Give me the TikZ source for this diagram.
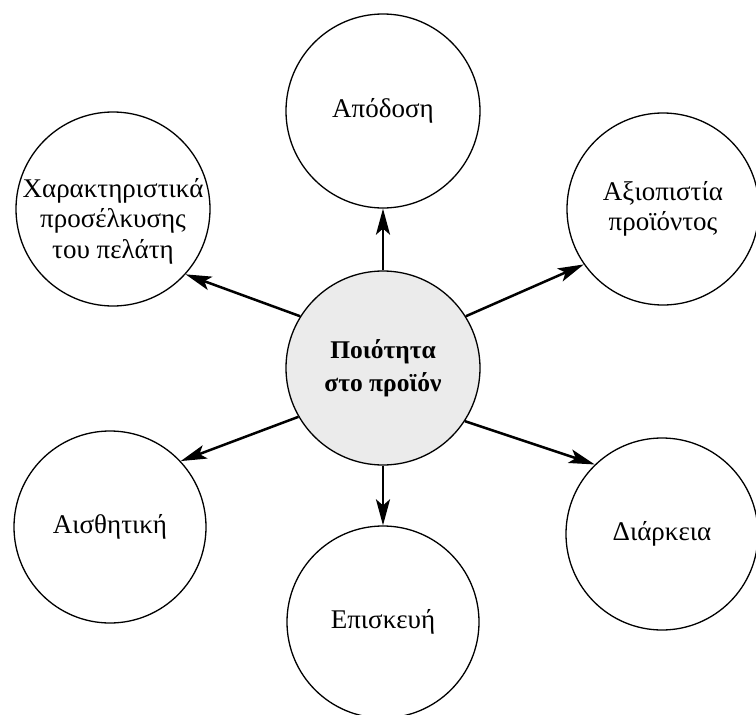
\documentclass[tikz,border=0pt]{standalone}
\usepackage{fontspec}
\setmainfont{Liberation Serif}
\usetikzlibrary{arrows.meta}
\begin{document}
\begin{tikzpicture}[x=1pt,y=-1pt,
  bub/.style={circle,draw,line width=1.3pt,minimum size=192pt,inner sep=0pt,align=center,font=\fontsize{27}{30.5}\selectfont},
  hub/.style={bub,minimum size=194pt,fill=gray!16,font=\fontsize{25.5}{33}\selectfont\bfseries},
  conn/.style={line width=2.5pt,-{Stealth[length=26pt,width=14pt,inset=6pt]}}]
\useasboundingbox (0,0) rectangle (756,715);
\node[hub] (hub) at (383,368) {Ποιότητα\\στο προϊόν};
\node[bub,minimum size=194pt] (top) at (383,111) {Απόδοση};
\node[bub,minimum size=194pt] (lt) at (113,209) {\raisebox{-19pt}[0pt][0pt]{\begin{tabular}{@{}c@{}}Χαρακτηριστικά\\προσέλκυσης\\του πελάτη\end{tabular}}};
\node[bub] (rt) at (663,209) {Αξιοπιστία\\προϊόντος};
\node[bub] (lb) at (110,527) {Αισθητική};
\node[bub] (rb) at (662,534) {Διάρκεια};
\node[bub] (bot) at (383,622) {Επισκευή};
\draw[conn] (hub.north) -- (top.south);
\draw[conn] (hub.148) -- (lt.-42);
\draw[conn] (hub.32) -- (rt.215);
\draw[conn] (hub.210) -- (lb.43);
\draw[conn] (hub.-33) -- (rb.134);
\draw[conn] (hub.south) -- (bot.north);
\end{tikzpicture}
\end{document}
